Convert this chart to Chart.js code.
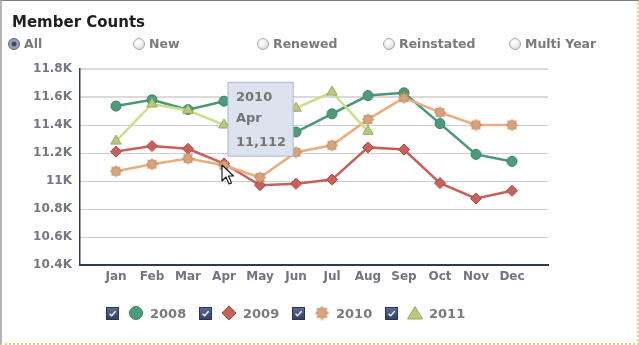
<!DOCTYPE html>
<html>
<head>
<meta charset="utf-8">
<title>Member Counts</title>
<script src="https://cdn.jsdelivr.net/npm/chart.js@4.4.1/dist/chart.umd.min.js"></script>
<style>
  html, body { margin: 0; padding: 0; background: #fff; }
  body { width: 639px; height: 345px; position: relative; overflow: hidden;
         font-family: "DejaVu Sans", Verdana, sans-serif; font-weight: bold; }
  #chart { position: absolute; left: 0; top: 0; }
  .frame { position: absolute; left: 0; top: 0; width: 639px; height: 345px; box-sizing: border-box;
           border-top: 1px solid #7d7d7d; border-left: 2px solid #b4b4b4;
           border-right: 2px dotted #f2c690; border-bottom: 2px dotted #f2c690; pointer-events: none; }
  h1 { position: absolute; left: 12px; top: 12px; margin: 0; font-size: 15px; line-height: 20px; color: #1e1e1e; }
  .radio { position: absolute; top: 36px; height: 16px; display: flex; align-items: center;
           font-size: 12.5px; line-height: 16px; color: #7a7a7a; white-space: nowrap; }
  .radio i { display: inline-block; width: 10px; height: 10px; border-radius: 50%; border: 1px solid #a9a9a9;
             background: radial-gradient(circle at 40% 35%, #fff 0, #f2f2f2 40%, #cdcdcd 100%); margin-right: 4px; }
  .radio.on i { border-color: #56627a; background: radial-gradient(circle, #3e4960 0, #3e4960 30%, #8d98ad 38%, #aab3c4 100%); }
  #legend { position: absolute; left: 106px; top: 306px; height: 16px; display: flex; }
  .item { width: 93px; height: 16px; position: relative; font-size: 13px; line-height: 16px; color: #7a7a7a; }
  .item .box { position: absolute; left: 0; top: 1px; width: 11px; height: 11px; border: 1px solid #2a3553;
               background: linear-gradient(#5a6a92, #33426a); }
  .item .box svg { position: absolute; left: 1px; top: 1px; }
  .item canvas { position: absolute; left: 22px; top: -1px; }
  .item span { position: absolute; left: 44px; top: 0; }
  #cursor { position: absolute; left: 221px; top: 164px; }
</style>
</head>
<body>
<canvas id="chart" width="639" height="345"></canvas>
<h1>Member Counts</h1>
<div class="radio on" style="left:8px"><i></i>All</div>
<div class="radio" style="left:133px"><i></i>New</div>
<div class="radio" style="left:257px"><i></i>Renewed</div>
<div class="radio" style="left:383px"><i></i>Reinstated</div>
<div class="radio" style="left:509px"><i></i>Multi Year</div>
<div id="legend"></div>
<svg id="cursor" width="14" height="22" viewBox="0 0 14 22">
  <path d="M1 1 L1 17 L5 13 L8 20 L10.5 19 L7.5 12 L12.5 12 Z" fill="#fff" stroke="#111" stroke-width="1.1" stroke-linejoin="round"/>
</svg>
<div class="frame"></div>
<script>
// monthly member counts per year
const months = ['Jan', 'Feb', 'Mar', 'Apr', 'May', 'Jun', 'Jul', 'Aug', 'Sep', 'Oct', 'Nov', 'Dec'];
const years = ['2008', '2009', '2010', '2011'];
const counts2008 = [11535, 11580, 11510, 11570, 11540, 11350, 11480, 11610, 11630, 11410, 11190, 11140];
const counts2009 = [11210, 11250, 11230, 11125, 10970, 10980, 11010, 11240, 11225, 10985, 10875, 10930];
const counts2010 = [11070, 11120, 11160, 11112, 11025, 11205, 11255, 11440, 11595, 11490, 11400, 11400];
const counts2011 = [11285, 11550, 11505, 11400, 11450, 11520, 11635, 11355, null, null, null, null];
const yMin = 10400, yMax = 11800, yStep = 200;

const FONT = '"DejaVu Sans", Verdana, sans-serif';
const AXIS = '#2d3b58';

// filled 8-point star used as the 2010 marker
function starCanvas(size, fill, stroke) {
  const c = document.createElement('canvas');
  c.width = c.height = size;
  const g = c.getContext('2d');
  const r = size / 2 - 0.8, ri = r * 0.68, n = 8;
  g.beginPath();
  for (let i = 0; i < n * 2; i++) {
    const a = -Math.PI / 2 + i * Math.PI / n;
    const rr = i % 2 ? ri : r;
    g.lineTo(size / 2 + rr * Math.cos(a), size / 2 + rr * Math.sin(a));
  }
  g.closePath();
  g.fillStyle = fill; g.fill();
  g.strokeStyle = stroke; g.lineWidth = 0.8; g.stroke();
  return c;
}

const styles = [
  { line: '#4a9775', fill: '#4f9b79', edge: '#3d8565', point: 'circle', radius: 5 },
  { line: '#c95f59', fill: '#c9605b', edge: '#a84b46', point: 'rectRot', radius: 5.5 },
  { line: '#e9ad80', fill: '#d9a27a', edge: '#b98556', point: starCanvas(13, '#d9a27a', '#b07d52'), radius: 6 },
  { line: '#cadf8e', fill: '#b9c97f', edge: '#97aa5a', point: 'triangle', radius: 6 }
];

const series = [counts2008, counts2009, counts2010, counts2011];

const datasets = series.map((vals, k) => ({
  label: years[k],
  data: vals.map((v, i) => ({ x: i, y: v })),
  borderColor: styles[k].line,
  borderWidth: 2.5,
  pointStyle: styles[k].point,
  pointRadius: styles[k].radius,
  pointBackgroundColor: styles[k].fill,
  pointBorderColor: styles[k].edge,
  pointBorderWidth: 1,
  tension: 0,
  order: 3 - k
}));

// tooltip box pinned up and to the right of its point
Chart.Tooltip.positioners.pinned = function (items) {
  if (!items.length) return false;
  const p = items[0].element;
  return { x: p.x + 4, y: p.y - 83, xAlign: 'left', yAlign: 'top' };
};

const chart = new Chart(document.getElementById('chart'), {
  type: 'line',
  data: { datasets },
  options: {
    responsive: false,
    animation: false,
    events: [],
    layout: { padding: { left: 0, top: 69, right: 91, bottom: 0 } },
    plugins: {
      legend: { display: false },
      tooltip: {
        position: 'pinned',
        animation: false,
        backgroundColor: '#dde3ee',
        borderColor: '#a7b6d2',
        borderWidth: 1,
        cornerRadius: 0,
        caretSize: 0,
        caretPadding: 0,
        displayColors: false,
        padding: { top: 8, right: 7, bottom: 6, left: 8 },
        titleColor: '#747474',
        bodyColor: '#747474',
        titleFont: { family: FONT, size: 13, weight: 'bold' },
        bodyFont: { family: FONT, size: 13, weight: 'bold' },
        titleSpacing: 5,
        titleMarginBottom: 8,
        callbacks: {
          title: items => [items[0].dataset.label, months[items[0].parsed.x]],
          label: item => item.parsed.y.toLocaleString('en-US')
        }
      }
    },
    scales: {
      x: {
        type: 'linear',
        min: -1,
        max: 12,
        afterFit: s => { s.height = 80; },
        ticks: {
          stepSize: 1,
          autoSkip: false,
          padding: 5,
          color: '#717482',
          font: { family: FONT, size: 12, weight: 'bold' },
          callback: v => months[v] ?? ''
        },
        grid: { display: false, drawTicks: false },
        border: { color: AXIS, width: 2 }
      },
      y: {
        min: yMin,
        max: yMax,
        afterFit: s => { s.width = 80; },
        ticks: {
          stepSize: yStep,
          padding: 8,
          color: '#737680',
          font: { family: FONT, size: 12, weight: 'bold' },
          callback: v => (v / 1000) + 'K'
        },
        grid: {
          drawTicks: false,
          // top two lines solid and pale, the rest dotted
          color: ctx => (ctx.tick && ctx.tick.value >= 11600 ? '#dadada' : '#9c9c9c'),
          lineWidth: ctx => (ctx.tick && ctx.tick.value >= 11600 ? 2 : 1)
        },
        border: {
          color: AXIS,
          width: 1.5,
          dash: ctx => (ctx.tick && ctx.tick.value < 11600 ? [1, 1] : [])
        }
      }
    }
  }
});

chart.tooltip.setActiveElements([{ datasetIndex: 2, index: 3 }], { x: 0, y: 0 });
chart.update();

// legend row: checkbox, marker, year
const legend = document.getElementById('legend');
styles.forEach((st, k) => {
  const item = document.createElement('div');
  item.className = 'item';
  item.innerHTML = '<div class="box"><svg width="9" height="9" viewBox="0 0 9 9"><path d="M1.5 4.8 L3.6 6.8 L7.6 2.2" fill="none" stroke="#fff" stroke-width="1.4"/></svg></div>'
    + '<canvas width="16" height="16"></canvas><span>' + years[k] + '</span>';
  legend.appendChild(item);
  const g = item.querySelector('canvas').getContext('2d');
  g.fillStyle = st.fill;
  g.strokeStyle = st.edge;
  g.lineWidth = 1;
  g.beginPath();
  if (st.point === 'circle') {
    g.arc(8, 8, 6.5, 0, Math.PI * 2);
  } else if (st.point === 'rectRot') {
    g.moveTo(8, 1); g.lineTo(15, 8); g.lineTo(8, 15); g.lineTo(1, 8);
  } else if (st.point === 'triangle') {
    g.moveTo(8, 1.5); g.lineTo(15.5, 14); g.lineTo(0.5, 14);
  } else {
    g.drawImage(starCanvas(15, st.fill, st.edge), 0.5, 0.5);
    return;
  }
  g.closePath();
  g.fill();
  g.stroke();
});
</script>
</body>
</html>
